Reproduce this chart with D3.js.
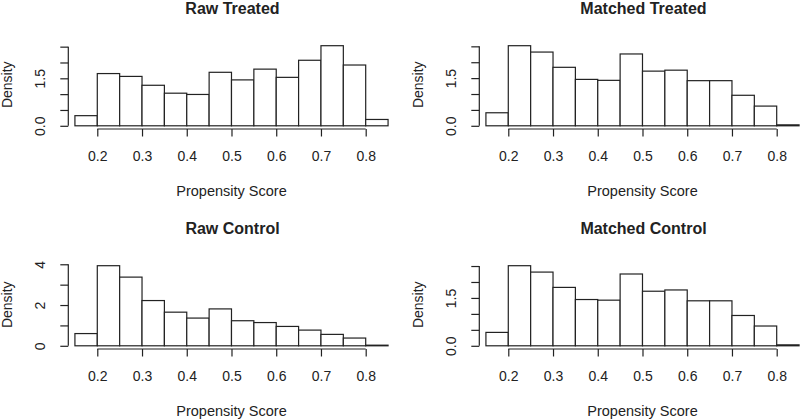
<!DOCTYPE html>
<html>
<head>
<meta charset="utf-8">
<script src="https://cdn.jsdelivr.net/npm/d3@7"></script>
<style>
  html, body { margin: 0; padding: 0; background: #fff; }
  svg { display: block; }
  text { font-family: "Liberation Sans", Arial, Helvetica, sans-serif; fill: #222; }
</style>
</head>
<body>
<svg id="chart" width="800" height="420"></svg>
<script>
// ---- data ----
const breaks = [0.15, 0.2, 0.25, 0.3, 0.35, 0.4, 0.45, 0.5, 0.55, 0.6, 0.65, 0.7, 0.75, 0.8, 0.85];
const rawTreated     = [0.32, 1.65, 1.56, 1.28, 1.03, 0.99, 1.69, 1.45, 1.79, 1.53, 2.07, 2.53, 1.92, 0.20];
const matchedTreated = [0.41, 2.52, 2.32, 1.84, 1.46, 1.43, 2.26, 1.72, 1.75, 1.42, 1.42, 0.96, 0.62, 0.03];
const rawControl     = [0.60, 3.93, 3.37, 2.22, 1.65, 1.36, 1.81, 1.23, 1.14, 0.95, 0.77, 0.56, 0.38, 0.03];
const matchedControl = [0.42, 2.51, 2.31, 1.83, 1.45, 1.43, 2.25, 1.71, 1.75, 1.41, 1.41, 0.95, 0.62, 0.03];
const xTicks = [0.2, 0.3, 0.4, 0.5, 0.6, 0.7, 0.8];
const yTicksSmall = [0, 0.5, 1, 1.5, 2, 2.5];
const yLabelsSmall = [0, 1.5];
const yTicksLarge = [0, 1, 2, 3, 4];
const yLabelsLarge = [0, 2, 4];
const titles = ["Raw Treated", "Matched Treated", "Raw Control", "Matched Control"];
const xTitle = "Propensity Score";
const yTitle = "Density";

const panels = [
  { title: titles[0], values: rawTreated,     yTicks: yTicksSmall, yLabels: yLabelsSmall, fmt: d3.format(".1f"), col: 0, row: 0 },
  { title: titles[1], values: matchedTreated, yTicks: yTicksSmall, yLabels: yLabelsSmall, fmt: d3.format(".1f"), col: 1, row: 0 },
  { title: titles[2], values: rawControl,     yTicks: yTicksLarge, yLabels: yLabelsLarge, fmt: d3.format("d"),   col: 0, row: 1 },
  { title: titles[3], values: matchedControl, yTicks: yTicksSmall, yLabels: yLabelsSmall, fmt: d3.format(".1f"), col: 1, row: 1 }
];

// ---- layout ----
const svg = d3.select("#chart");
const colOffset = 411, rowOffset = 220;
const plotLeft = 68.3, plotWidth = 328.4;
const plotTop = 42.5, plotHeight = 86.5;
const ink = "#222";
const lw = 1.2;

panels.forEach(p => {
  const ox = p.col * colOffset, oy = p.row * rowOffset;
  const g = svg.append("g").attr("transform", `translate(${ox},${oy})`);
  const left = plotLeft, right = plotLeft + plotWidth;
  const top = plotTop, bottom = plotTop + plotHeight;

  const x = d3.scaleLinear().domain([0.1352, 0.8693]).range([left, right]);
  const ymax = d3.max(p.values);
  const y = d3.scaleLinear().domain([-0.04 * ymax, 1.04 * ymax]).range([bottom, top]);

  // bars
  const bins = p.values.map((v, i) => ({ x0: breaks[i], x1: breaks[i + 1], v }));
  g.append("g").selectAll("rect").data(bins).join("rect")
    .attr("x", d => x(d.x0))
    .attr("y", d => y(d.v))
    .attr("width", d => x(d.x1) - x(d.x0))
    .attr("height", d => y(0) - y(d.v))
    .attr("fill", "#fff")
    .attr("stroke", ink)
    .attr("stroke-width", lw);

  // x axis
  const xa = g.append("g").attr("transform", `translate(0,${bottom})`)
    .call(d3.axisBottom(x).tickValues(xTicks).tickSize(7.5).tickSizeOuter(0).tickFormat(d3.format(".1f")));
  xa.select(".domain").remove();
  xa.append("line").attr("x1", x(xTicks[0])).attr("x2", x(xTicks[xTicks.length - 1]))
    .attr("stroke", ink).attr("stroke-width", lw);
  xa.selectAll(".tick line").attr("stroke", ink).attr("stroke-width", lw);
  xa.selectAll(".tick text").attr("y", 31.7).attr("dy", 0)
    .style("font-size", "14px").attr("fill", ink);

  // y axis
  const ya = g.append("g").attr("transform", `translate(${left},0)`)
    .call(d3.axisLeft(y).tickValues(p.yTicks).tickSize(8).tickSizeOuter(0)
      .tickFormat(d => p.yLabels.includes(d) ? p.fmt(d) : ""));
  ya.select(".domain").remove();
  ya.append("line").attr("y1", y(p.yTicks[0])).attr("y2", y(p.yTicks[p.yTicks.length - 1]))
    .attr("stroke", ink).attr("stroke-width", lw);
  ya.selectAll(".tick line").attr("stroke", ink).attr("stroke-width", lw);
  ya.selectAll(".tick text")
    .attr("x", 0).attr("dy", 0)
    .attr("transform", "translate(-23,0) rotate(-90)")
    .attr("text-anchor", "middle")
    .style("font-size", "14px").attr("fill", ink);

  // titles
  g.append("text").attr("x", (left + right) / 2).attr("y", 14)
    .attr("text-anchor", "middle").style("font-size", "16px").style("font-weight", "bold")
    .text(p.title);
  g.append("text").attr("x", (left + right) / 2 - 1).attr("y", 196)
    .attr("text-anchor", "middle").style("font-size", "14.5px")
    .text(xTitle);
  g.append("text").attr("transform", `translate(11.5,${(top + bottom) / 2 - 1}) rotate(-90)`)
    .attr("text-anchor", "middle").style("font-size", "14px")
    .text(yTitle);
});
</script>
</body>
</html>
